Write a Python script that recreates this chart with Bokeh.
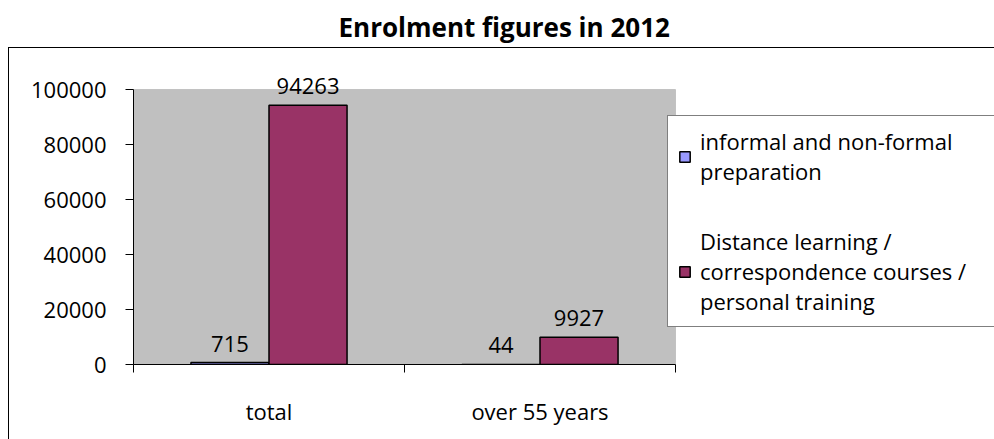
from bokeh.plotting import figure
from bokeh.models import (ColumnDataSource, Range1d, LinearAxis, FixedTicker, Legend, LegendItem,
                          NumeralTickFormatter, InlineStyleSheet, BoxAnnotation)
from bokeh.transform import dodge
from bokeh.core.properties import value
from bokeh.embed import file_html
from bokeh.resources import INLINE

# ---- data ----
categories = ["total", "over 55 years"]
series_names = ["informal and non-formal\npreparation",
                "Distance learning /\ncorrespondence courses /\npersonal training"]
informal = [715, 44]
distance = [94263, 9927]
y_ticks = [0, 20000, 40000, 60000, 80000, 100000]
title_text = "Enrolment figures in 2012"

FONT = "Open Sans"
FS = "22px"
BAR_W = 0.288

n = len(categories)
centers = [i + 0.5 for i in range(n)]          # category slots on the x scale
edges = list(range(n + 1))

src = ColumnDataSource(dict(
    cx=centers, cat=categories, informal=informal, distance=distance,
    informal_lbl=[str(v) for v in informal], distance_lbl=[str(v) for v in distance]))

# frame: x 133..994 (plot area uses 542 px of it), y 52..364 (plot area 89..364)
p = figure(width=994, height=439, title=title_text,
           x_range=Range1d(0, n * 861 / 542),
           y_range=Range1d(0, y_ticks[-1] * 312 / 275),
           output_backend="svg", toolbar_location=None,
           x_axis_location=None, y_axis_location=None,
           min_border_left=133, min_border_right=0, min_border_top=52, min_border_bottom=75)

p.title.align = "left"
p.title.offset = 205
p.title.standoff = 14
p.title.vertical_align = "middle"
p.title.text_font = FONT
p.title.text_font_size = "26px"
p.title.text_font_style = "bold"
p.title.text_color = "black"

p.background_fill_color = "white"
p.border_fill_color = "white"
p.outline_line_color = None
p.grid.visible = False

# outer chart border (pure styling)
p.stylesheets = [InlineStyleSheet(css="""
:host { overflow: hidden; }
:host::after { content: ''; position: absolute; left: 8px; top: 47px; width: 1200px; height: 700px;
               border: 1.5px solid black; box-sizing: border-box; pointer-events: none; }
""")]

# grey plot area
p.add_layout(BoxAnnotation(left=edges[0], right=edges[-1], bottom=y_ticks[0], top=y_ticks[-1],
                           fill_color="#C0C0C0", fill_alpha=1, line_color="#808080", line_width=1,
                           level="underlay"))

# y axis
yax = LinearAxis(ticker=FixedTicker(ticks=y_ticks), formatter=NumeralTickFormatter(format="0"),
                 bounds=(y_ticks[0], y_ticks[-1]),
                 major_tick_out=8, major_tick_in=0, minor_tick_line_color=None,
                 axis_line_color="black", major_tick_line_color="black",
                 major_label_text_font=FONT, major_label_text_font_size=FS,
                 major_label_text_color="black", major_label_standoff=19)
p.add_layout(yax, "left")

# x axis: ticks at category boundaries
edge_ax = LinearAxis(ticker=FixedTicker(ticks=edges), bounds=(edges[0], edges[-1]),
                     major_tick_out=8, major_tick_in=0, minor_tick_line_color=None,
                     axis_line_color="black", major_tick_line_color="black",
                     major_label_overrides={t: "" for t in edges}, major_label_standoff=0)
p.add_layout(edge_ax, "below")
cat_ax = LinearAxis(ticker=FixedTicker(ticks=centers),
                    major_label_overrides=dict(zip(centers, categories)),
                    major_tick_line_color=None, minor_tick_line_color=None, axis_line_color=None,
                    major_label_text_font=FONT, major_label_text_font_size=FS,
                    major_label_text_color="black", major_label_standoff=17)
p.add_layout(cat_ax, "below")

# bars
r1 = p.vbar(x=dodge("cx", -BAR_W / 2), top="informal", width=BAR_W, source=src,
            fill_color="#9999FF", line_color="black", line_width=1.5)
r2 = p.vbar(x=dodge("cx", BAR_W / 2), top="distance", width=BAR_W, source=src,
            fill_color="#993366", line_color="black", line_width=1.5)

p.text(x=dodge("cx", -BAR_W / 2), y="informal", text="informal_lbl", source=src,
       text_align="center", text_baseline="bottom", y_offset=-11,
       text_font=value(FONT), text_font_size=FS, text_color="black")
p.text(x=dodge("cx", BAR_W / 2), y="distance", text="distance_lbl", source=src,
       text_align="center", text_baseline="bottom", y_offset=-11,
       text_font=value(FONT), text_font_size=FS, text_color="black")

legend = Legend(items=[LegendItem(label=series_names[0], renderers=[r1]),
                       LegendItem(label=series_names[1], renderers=[r2])],
                location=(534, 37), margin=0, padding=10, spacing=40,
                glyph_width=13, glyph_height=13, label_standoff=9, label_width=300,
                label_text_font=FONT, label_text_font_size=FS, label_text_color="black",
                border_line_color="black", border_line_width=1,
                background_fill_color="white", background_fill_alpha=1)
p.add_layout(legend, "center")

open("out.html", "w").write(file_html(p, INLINE))
